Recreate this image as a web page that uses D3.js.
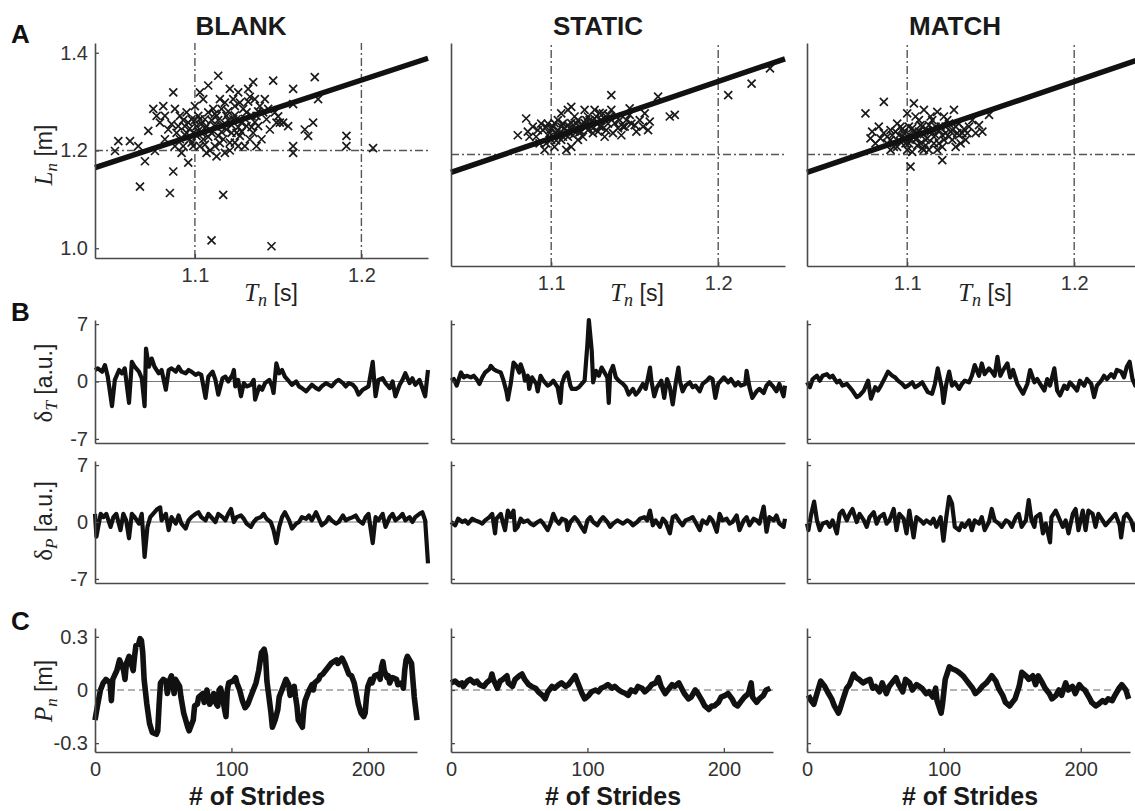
<!DOCTYPE html>
<html><head><meta charset="utf-8">
<script src="https://cdn.jsdelivr.net/npm/d3@7"></script>
<style>body{margin:0;background:#fff}svg{display:block}</style>
</head><body>
<svg id="c" width="1135" height="811"></svg>
<script>
// ---------- DATA ----------
const conditions = ["BLANK", "STATIC", "MATCH"];
const speed = 1.12;              // constant-speed line L = v * T  (m/s)
const refT = [1.1, 1.2];         // dash-dot reference lines (s)
const refL = [1.2];              // dash-dot reference line (m)
const tTicks = [1.1, 1.2];
const lTicks = [1.0, 1.2, 1.4];
const deltaTicks = [-7, 0, 7];
const pTicks = [-0.3, 0, 0.3];
const strideTicks = [0, 100, 200];

// A: stride time T_n (s) vs stride length L_n (m)
const scatterBlank = [[1.052,1.199],[1.054,1.219],[1.061,1.219],[1.066,1.209],[1.067,1.126],[1.070,1.178],[1.072,1.240],[1.075,1.285],[1.076,1.199],[1.077,1.271],[1.079,1.257],[1.081,1.291],[1.082,1.223],[1.085,1.113],[1.086,1.254],[1.087,1.319],[1.087,1.157],[1.088,1.209],[1.089,1.236],[1.091,1.271],[1.092,1.195],[1.094,1.250],[1.095,1.278],[1.096,1.175],[1.097,1.223],[1.098,1.264],[1.099,1.209],[1.100,1.291],[1.101,1.250],[1.102,1.271],[1.103,1.209],[1.104,1.236],[1.105,1.305],[1.106,1.264],[1.107,1.195],[1.108,1.333],[1.109,1.243],[1.110,1.016],[1.111,1.285],[1.112,1.209],[1.113,1.188],[1.114,1.353],[1.115,1.305],[1.116,1.250],[1.117,1.109],[1.117,1.223],[1.118,1.195],[1.119,1.271],[1.121,1.326],[1.122,1.236],[1.123,1.305],[1.124,1.216],[1.125,1.264],[1.126,1.319],[1.127,1.230],[1.129,1.285],[1.130,1.209],[1.131,1.250],[1.132,1.326],[1.133,1.223],[1.134,1.271],[1.135,1.340],[1.136,1.305],[1.137,1.209],[1.138,1.250],[1.139,1.291],[1.140,1.223],[1.142,1.305],[1.143,1.264],[1.145,1.243],[1.146,1.004],[1.147,1.343],[1.148,1.278],[1.149,1.257],[1.151,1.257],[1.153,1.257],[1.156,1.250],[1.159,1.326],[1.159,1.295],[1.159,1.209],[1.159,1.195],[1.166,1.243],[1.168,1.230],[1.171,1.257],[1.172,1.350],[1.174,1.305],[1.191,1.230],[1.191,1.209],[1.207,1.205],[1.095,1.236],[1.098,1.216],[1.101,1.230],[1.103,1.264],[1.105,1.223],[1.107,1.250],[1.108,1.278],[1.110,1.236],[1.113,1.271],[1.114,1.230],[1.116,1.285],[1.119,1.243],[1.121,1.216],[1.123,1.264],[1.125,1.236],[1.128,1.257],[1.131,1.278],[1.135,1.236],[1.137,1.271],[1.141,1.278],[1.091,1.223],[1.093,1.209],[1.096,1.257],[1.099,1.236],[1.124,1.291],[1.126,1.209],[1.112,1.250],[1.103,1.319],[1.082,1.271],[1.084,1.243],[1.097,1.245],[1.100,1.262],[1.102,1.240],[1.104,1.255],[1.106,1.245],[1.108,1.228],[1.110,1.262],[1.112,1.275],[1.114,1.262],[1.116,1.238],[1.118,1.255],[1.120,1.262],[1.122,1.252],[1.124,1.272],[1.126,1.248],[1.128,1.238],[1.130,1.265],[1.132,1.300],[1.134,1.248],[1.136,1.258],[1.138,1.280],[1.133,1.310],[1.127,1.298],[1.118,1.298],[1.106,1.212],[1.115,1.215],[1.121,1.200],[1.109,1.200],[1.093,1.262],[1.090,1.250],[1.088,1.285],[1.094,1.232],[1.120,1.280],[1.144,1.285],[1.150,1.270]];
const scatterStatic = [[1.080,1.238],[1.085,1.271],[1.086,1.245],[1.089,1.255],[1.091,1.235],[1.094,1.261],[1.096,1.209],[1.097,1.222],[1.099,1.242],[1.101,1.255],[1.102,1.215],[1.104,1.268],[1.105,1.242],[1.106,1.229],[1.108,1.252],[1.109,1.209],[1.110,1.235],[1.112,1.294],[1.113,1.248],[1.115,1.261],[1.116,1.229],[1.118,1.245],[1.120,1.288],[1.121,1.255],[1.123,1.268],[1.125,1.242],[1.127,1.275],[1.129,1.255],[1.131,1.281],[1.132,1.235],[1.134,1.261],[1.136,1.317],[1.137,1.242],[1.139,1.275],[1.142,1.238],[1.143,1.255],[1.145,1.268],[1.147,1.291],[1.148,1.261],[1.151,1.245],[1.153,1.268],[1.155,1.255],[1.158,1.248],[1.159,1.265],[1.164,1.314],[1.171,1.275],[1.174,1.278],[1.206,1.317],[1.220,1.340],[1.231,1.370],[1.095,1.248],[1.098,1.261],[1.100,1.229],[1.103,1.242],[1.107,1.261],[1.111,1.242],[1.114,1.275],[1.117,1.255],[1.119,1.235],[1.122,1.275],[1.124,1.255],[1.126,1.288],[1.128,1.245],[1.130,1.268],[1.135,1.275],[1.140,1.252],[1.106,1.281],[1.110,1.288],[1.093,1.222],[1.087,1.235],[1.136,1.288],[1.147,1.278],[1.156,1.281],[1.112,1.215],[1.100,1.250],[1.102,1.262],[1.104,1.248],[1.106,1.255],[1.108,1.240],[1.110,1.258],[1.112,1.262],[1.114,1.250],[1.116,1.268],[1.118,1.258],[1.120,1.262],[1.122,1.248],[1.124,1.265],[1.126,1.270],[1.128,1.262],[1.130,1.255],[1.132,1.270],[1.134,1.278],[1.138,1.262],[1.141,1.268],[1.144,1.255],[1.099,1.235],[1.103,1.228],[1.107,1.235],[1.111,1.252],[1.113,1.238],[1.117,1.244],[1.121,1.268],[1.125,1.252],[1.129,1.282],[1.133,1.248],[1.150,1.258],[1.097,1.254],[1.092,1.248]];
const scatterMatch = [[1.075,1.281],[1.078,1.232],[1.079,1.245],[1.083,1.255],[1.086,1.304],[1.088,1.235],[1.090,1.248],[1.092,1.215],[1.094,1.261],[1.097,1.235],[1.099,1.222],[1.100,1.281],[1.101,1.255],[1.102,1.176],[1.103,1.205],[1.104,1.301],[1.105,1.242],[1.107,1.268],[1.108,1.222],[1.110,1.288],[1.112,1.248],[1.113,1.209],[1.115,1.268],[1.116,1.235],[1.118,1.284],[1.120,1.255],[1.121,1.189],[1.122,1.229],[1.124,1.268],[1.126,1.245],[1.128,1.288],[1.129,1.215],[1.131,1.261],[1.133,1.242],[1.135,1.229],[1.137,1.255],[1.139,1.268],[1.141,1.242],[1.143,1.258],[1.145,1.245],[1.149,1.278],[1.090,1.229],[1.093,1.245],[1.096,1.255],[1.098,1.242],[1.102,1.229],[1.104,1.245],[1.106,1.232],[1.109,1.255],[1.111,1.229],[1.114,1.245],[1.117,1.255],[1.119,1.222],[1.123,1.242],[1.125,1.261],[1.127,1.229],[1.130,1.242],[1.132,1.222],[1.136,1.242],[1.094,1.215],[1.100,1.209],[1.109,1.212],[1.118,1.209],[1.081,1.222],[1.086,1.242],[1.110,1.209],[1.090,1.209],[1.095,1.238],[1.097,1.250],[1.099,1.232],[1.101,1.240],[1.103,1.252],[1.105,1.230],[1.107,1.245],[1.108,1.258],[1.110,1.240],[1.112,1.232],[1.113,1.258],[1.115,1.250],[1.117,1.238],[1.119,1.248],[1.121,1.238],[1.123,1.255],[1.125,1.235],[1.127,1.248],[1.129,1.255],[1.131,1.238],[1.134,1.250],[1.101,1.222],[1.106,1.218],[1.111,1.218],[1.116,1.222],[1.121,1.215],[1.096,1.225],[1.091,1.238],[1.088,1.222],[1.084,1.232],[1.114,1.275],[1.105,1.275],[1.122,1.275]];

// B: delta_T (a.u.) by stride  [stride, value]
const dTBlank = [[0,1.4],[2,1.6],[5,1.2],[7,2.0],[9,0.6],[12,-3.0],[14,0.2],[17,1.4],[19,1.0],[21,1.6],[24,-2.6],[26,2.4],[28,1.8],[31,1.2],[33,0.4],[35,-3.0],[36,4.0],[38,1.8],[40,2.8],[42,1.8],[45,1.0],[47,1.4],[50,-1.0],[52,1.4],[54,1.6],[57,1.2],[59,1.8],[61,1.2],[64,1.0],[66,1.4],[68,1.2],[71,0.8],[73,1.0],[75,0.8],[78,-2.0],[80,0.6],[83,1.2],[85,0.2],[87,-1.6],[90,0.4],[92,0.6],[94,0],[97,0.8],[98,1.4],[99,-0.6],[101,0.2],[103,-1.8],[105,-0.2],[107,-0.6],[110,-0.4],[112,0.2],[113,-2.2],[116,-0.6],[118,-1.0],[120,-0.2],[123,0.2],[125,-0.6],[126,-1.4],[128,2.2],[130,1.0],[132,1.4],[134,0.6],[137,0],[139,-0.4],[142,0],[144,-0.6],[146,-0.8],[149,-1.2],[151,-0.8],[153,-0.4],[156,-0.8],[158,-1.0],[160,-0.6],[163,-0.2],[165,-0.4],[167,-0.6],[170,0],[172,0.2],[175,-0.2],[177,-0.6],[179,-0.2],[182,-0.4],[184,-0.8],[186,-1.6],[189,-1.0],[191,-0.8],[193,-0.6],[196,2.4],[197,0.2],[198,-1.8],[200,0.2],[203,0.4],[205,-0.2],[208,-0.8],[210,0],[212,-1.8],[215,-0.4],[217,0.2],[219,1.0],[222,-0.2],[224,0.4],[226,-0.4],[229,0.2],[231,-0.8],[233,-1.8],[235,1.4]];
const dTStatic = [[0,0.1],[2,0.3],[4,-0.5],[7,1.1],[9,0.5],[11,0.7],[14,0.5],[16,0.7],[18,0.3],[20,-0.3],[22,0.5],[24,1.1],[27,1.5],[28,1.9],[30,1.5],[32,1.3],[35,1.1],[37,0.1],[39,-1.2],[40,-2.2],[42,-0.3],[44,2.3],[46,1.9],[48,1.1],[49,2.1],[51,1.1],[52,0.1],[54,0.7],[55,-0.9],[57,0.5],[60,-0.3],[61,-1.2],[63,0.7],[65,0.1],[68,-0.5],[70,-0.3],[72,0.1],[75,-0.7],[77,-2.6],[78,-0.3],[80,0.7],[82,1.1],[84,-0.5],[85,-0.9],[88,-0.9],[90,-0.7],[92,-0.3],[94,0.1],[96,4.6],[97,7.5],[99,3.8],[100,-0.1],[102,1.3],[104,0.7],[106,1.7],[108,1.1],[110,0.5],[111,-2.6],[112,1.1],[114,1.9],[116,0.5],[118,0.1],[121,-0.3],[123,-0.7],[125,-1.6],[128,-0.9],[130,-1.6],[132,-1.2],[135,-0.3],[137,-0.9],[140,1.7],[141,0.1],[143,-1.8],[145,-0.7],[148,0.1],[150,-2.0],[152,0.3],[154,-0.7],[156,-2.8],[158,-0.3],[160,1.7],[161,0.1],[163,-1.2],[165,-0.5],[168,-0.1],[170,-0.7],[172,-0.5],[175,-1.2],[177,-0.3],[180,0.1],[182,0.5],[184,0.3],[186,-2.0],[188,-0.3],[190,0.1],[192,0.5],[195,-0.1],[197,0.3],[200,-0.5],[202,-0.1],[204,-0.5],[207,-0.3],[208,1.3],[210,-0.7],[212,-2.0],[215,-1.2],[217,-0.9],[220,-1.4],[222,-0.5],[224,-0.1],[227,-0.7],[229,-1.2],[231,-0.3],[234,-1.8],[235,-0.5]];
const dTMatch = [[0,-0.1],[2,-0.7],[4,0.3],[7,0.7],[9,0.1],[11,0.7],[14,0.9],[16,0.5],[18,0.7],[21,-0.1],[23,0.1],[25,-0.5],[28,-0.3],[30,-0.7],[32,-1.1],[35,-1.9],[37,-1.7],[40,-1.1],[42,-0.3],[43,0.1],[45,-2.1],[48,-0.7],[50,-1.1],[52,-0.5],[55,0.5],[57,1.2],[60,0.7],[62,0.5],[64,0.1],[67,-0.3],[69,-0.7],[71,-0.5],[74,-0.1],[76,-0.7],[78,-0.5],[81,-0.1],[83,-0.7],[85,-1.3],[88,-1.5],[90,-0.3],[92,1.6],[95,-0.9],[96,-2.6],[98,-0.3],[100,1.2],[102,-0.5],[104,-0.1],[107,-0.9],[109,-0.3],[111,0.1],[114,-0.1],[116,0.7],[118,2.0],[121,0.7],[123,2.2],[125,0.9],[128,1.6],[130,1.2],[132,0.7],[134,3.0],[136,0.7],[138,1.4],[141,2.2],[143,0.5],[145,1.4],[148,-0.3],[150,-0.9],[152,-1.5],[155,-0.3],[157,1.4],[160,-0.1],[162,0.3],[164,-0.3],[167,-1.1],[169,0.3],[171,-0.5],[174,1.6],[176,-1.1],[178,-1.7],[181,-0.5],[183,-0.9],[185,-0.1],[188,-0.7],[190,-1.1],[192,0.1],[195,-0.5],[197,0.3],[200,-0.3],[202,-1.9],[204,-0.5],[207,0.1],[209,0.7],[211,0.3],[214,0.9],[216,0.5],[218,1.4],[221,1.2],[223,0.5],[225,1.8],[227,2.4],[229,0.3],[231,-0.5],[233,0.2],[235,-0.3]];

// B: delta_P (a.u.) by stride
const dPBlank = [[0,1.0],[1,-1.8],[4,1.0],[6,0.6],[8,1.0],[11,-0.6],[13,0.6],[15,1.0],[18,-1.0],[20,1.0],[22,0.2],[24,-2.0],[26,1.0],[28,0.6],[31,-0.2],[33,1.0],[35,-4.3],[37,-0.6],[39,0.6],[41,1.0],[44,1.6],[46,1.8],[47,0.2],[50,1.0],[52,-1.0],[54,0.6],[57,-0.2],[59,0.8],[61,-0.2],[64,-0.8],[66,0.2],[68,0.6],[71,1.0],[73,1.2],[75,0.6],[78,0.2],[80,1.0],[83,0.4],[85,0],[87,1.0],[90,0.6],[92,0.2],[94,1.0],[96,1.6],[98,0],[100,0.6],[103,0.8],[105,0.4],[107,-0.2],[110,-0.6],[112,0],[114,0.4],[117,0.6],[119,1.0],[121,0.4],[124,0],[126,-1.0],[128,-2.6],[130,-0.6],[132,0.6],[134,1.2],[137,0.2],[139,-0.8],[142,-0.2],[144,0],[146,0.6],[149,0.4],[151,0.8],[153,0.2],[156,1.2],[158,0.4],[160,-0.4],[163,0],[165,0.6],[167,0.2],[170,-0.2],[172,0],[175,0.8],[177,0.2],[179,0.4],[182,0.6],[184,0.8],[186,0.2],[189,-0.2],[191,0.6],[193,1.0],[196,-2.6],[198,0.6],[200,0.2],[203,1.0],[205,-0.6],[208,0.6],[210,1.0],[212,0.2],[215,0.6],[217,1.0],[219,0.2],[222,0.6],[224,0],[226,0.6],[229,1.0],[231,1.2],[233,0.2],[235,-5.1]];
const dPStatic = [[0,0],[3,-0.4],[5,0.4],[8,0],[10,0.2],[12,-0.2],[15,0.4],[17,0.2],[20,0],[22,-0.2],[24,0.2],[27,0.6],[29,1.0],[31,-1.4],[32,0.4],[35,1.0],[37,-0.4],[38,-1.0],[40,1.4],[42,0.6],[44,1.4],[45,-1.0],[47,-0.6],[49,0.4],[51,0],[54,0.2],[56,-0.2],[58,-0.4],[61,0],[63,0.2],[65,-0.2],[68,-1.0],[70,-0.2],[72,1.0],[74,0.2],[76,-0.2],[78,0.4],[81,0.2],[82,-1.0],[84,0],[87,0.6],[89,0.2],[91,-0.4],[94,-1.2],[96,0.2],[98,0.6],[100,0],[103,-0.4],[105,0.2],[107,0.6],[110,0],[112,-0.6],[114,-0.2],[117,0.2],[119,0],[121,-0.2],[124,0.2],[126,0],[128,-0.4],[131,0],[133,0.4],[136,0.6],[138,0.2],[140,1.4],[142,-0.4],[144,0.2],[147,-0.6],[149,0.4],[151,0],[154,-1.4],[156,0.6],[158,0.8],[161,0],[163,-0.4],[165,0.2],[168,0.4],[170,0.6],[172,0],[175,-1.0],[177,0.2],[180,-0.2],[182,0.6],[184,0.2],[187,-1.2],[189,1.0],[191,0.2],[194,0.4],[196,-0.2],[198,0],[201,0.8],[203,-1.0],[206,0.2],[208,0.6],[210,-0.4],[213,0.4],[215,0.2],[217,-0.2],[220,1.9],[222,-1.2],[224,0.6],[227,0.2],[229,0.8],[231,-0.2],[234,-0.6],[235,0.4]];
const dPMatch = [[0,-0.2],[1,-1.0],[3,1.0],[5,2.5],[7,0.2],[9,-1.0],[11,-0.2],[14,0],[16,-0.6],[18,0.2],[21,-1.4],[23,1.0],[25,1.4],[28,0.2],[30,1.0],[32,1.6],[35,0],[37,1.0],[40,0.2],[42,-0.6],[44,0.6],[47,1.2],[49,-0.2],[51,0.6],[54,1.0],[56,-0.2],[58,0.2],[61,1.6],[63,-1.0],[65,1.0],[68,0.4],[70,-1.4],[72,1.4],[75,-1.9],[77,0.6],[80,0.2],[82,-0.2],[84,0.2],[87,-0.2],[89,0.4],[91,-0.6],[94,0.6],[96,-2.3],[98,0.6],[100,3.1],[102,2.3],[104,-0.6],[107,-1.0],[109,-0.2],[111,-0.6],[114,0.2],[116,-1.0],[118,0.2],[121,-0.2],[123,0.6],[125,-1.0],[128,0],[130,1.6],[132,0.2],[135,-0.2],[137,-0.6],[140,0.2],[142,0],[144,-0.6],[147,0.6],[149,1.0],[151,-0.6],[154,0.2],[156,2.7],[158,0.2],[160,-0.6],[161,0.6],[164,1.0],[166,-1.4],[168,-0.2],[171,-2.5],[172,0.6],[175,1.4],[177,0.6],[180,-0.6],[182,0.2],[184,-1.4],[187,1.0],[189,1.6],[191,-1.0],[194,1.4],[196,-1.0],[198,1.4],[201,1.0],[203,-0.6],[205,1.0],[208,0.2],[210,-0.4],[213,0.2],[215,0.6],[217,1.0],[220,-0.4],[221,-1.9],[223,0.6],[225,1.0],[228,0.2],[230,-1.0],[233,0.4],[235,-0.2]];

// C: position P_n (m) by stride
const pBlank = [[0,-0.17],[2,-0.08],[4,0],[6,0.04],[8,0.06],[11,0.04],[12,-0.06],[13,0.06],[16,0.11],[18,0.17],[21,0.11],[22,0.06],[23,0.15],[25,0.19],[28,0.11],[29,0.19],[30,0.25],[32,0.26],[33,0.29],[34,0.28],[35,0.21],[36,0.06],[38,-0.08],[40,-0.19],[42,-0.24],[45,-0.25],[46,-0.23],[47,-0.08],[48,0.04],[50,0.06],[52,0.05],[53,-0.02],[55,0.06],[56,0.08],[57,0.04],[58,-0.02],[59,0.06],[62,0.02],[63,-0.04],[65,-0.13],[68,-0.21],[69,-0.23],[72,-0.17],[73,-0.09],[75,-0.08],[76,-0.04],[79,-0.02],[80,-0.07],[81,-0.04],[82,0],[84,-0.08],[86,-0.06],[87,-0.02],[89,-0.08],[90,-0.09],[91,0],[92,0.01],[93,-0.02],[95,-0.11],[96,-0.15],[97,0],[98,0.04],[101,0.05],[103,0.07],[104,0.04],[106,0],[108,-0.06],[110,-0.1],[112,-0.08],[114,-0.04],[115,-0.02],[118,0.04],[120,0.11],[122,0.21],[124,0.23],[125,0.19],[126,0.05],[129,-0.13],[130,-0.21],[132,-0.17],[134,-0.11],[135,-0.04],[137,0],[140,0.06],[142,0.03],[143,-0.03],[144,-0.02],[146,0.02],[147,-0.04],[148,-0.09],[149,-0.17],[152,-0.21],[153,-0.11],[154,-0.06],[157,0],[159,0.03],[160,0],[161,0.04],[164,0.06],[165,0.08],[167,0.09],[169,0.11],[171,0.13],[173,0.15],[175,0.16],[177,0.17],[178,0.15],[180,0.17],[181,0.18],[183,0.15],[186,0.09],[188,0.08],[190,0.04],[193,-0.08],[195,-0.13],[197,-0.15],[198,-0.13],[199,-0.04],[200,0.02],[202,0.06],[203,0.04],[205,0.08],[208,0.09],[209,0.06],[210,0.13],[211,0.16],[212,0.11],[214,0.07],[215,0.08],[216,0.04],[217,0.06],[218,0.07],[221,0.06],[222,0.03],[225,0.04],[226,0.01],[227,0.11],[228,0.17],[229,0.19],[232,0.15],[234,-0.04],[236,-0.17]];
const pStatic = [[0,0.04],[3,0.05],[6,0.03],[8,0.04],[9,0.02],[12,0.05],[14,0.06],[17,0.04],[19,0.05],[21,0.03],[24,0.02],[26,0.04],[29,0.06],[30,0.09],[31,0.06],[34,0.01],[36,0.05],[38,0.06],[41,0.08],[42,0.04],[45,0.02],[47,0.06],[50,0.08],[52,0.09],[54,0.06],[57,0.03],[59,0.02],[62,0.01],[64,-0.01],[67,-0.03],[69,-0.05],[71,-0.01],[74,0.02],[76,0.01],[79,0.03],[81,0.04],[84,0.02],[86,0.03],[89,0.06],[91,0.08],[93,0.04],[96,-0.02],[98,-0.05],[101,-0.03],[103,-0.01],[106,0],[108,-0.01],[110,0.01],[113,0.02],[115,0.03],[118,0.01],[120,0.02],[123,0],[125,-0.01],[128,-0.02],[130,-0.03],[132,0],[135,-0.01],[137,0.02],[140,0.01],[142,-0.01],[145,0.01],[147,0.03],[150,0.04],[152,0.07],[154,0.02],[157,-0.02],[159,0],[162,0.03],[164,0.02],[167,0.04],[169,0.01],[171,-0.02],[174,-0.05],[176,-0.04],[179,0],[181,-0.02],[184,-0.06],[186,-0.09],[189,-0.11],[191,-0.09],[193,-0.09],[196,-0.07],[198,-0.04],[201,-0.03],[203,-0.02],[206,-0.05],[208,-0.08],[210,-0.09],[213,-0.06],[215,-0.04],[218,-0.02],[220,0.04],[221,-0.04],[224,-0.07],[226,-0.05],[229,-0.03],[231,0],[234,0.01]];
const pMatch = [[1,-0.03],[3,-0.06],[5,-0.08],[8,0],[10,0.05],[13,0.02],[15,-0.01],[18,-0.05],[20,-0.09],[23,-0.13],[24,-0.11],[26,-0.06],[29,0.01],[31,0.03],[34,0.09],[36,0.07],[38,0.06],[41,0.04],[43,0.05],[46,0.06],[48,0.01],[50,0.02],[53,-0.01],[55,0.04],[58,-0.02],[60,0.02],[63,0.05],[65,0.07],[67,0.03],[70,-0.01],[72,0.06],[75,0.04],[77,0],[80,0.03],[82,0.02],[84,0.01],[87,-0.02],[89,-0.01],[92,-0.04],[94,0.01],[95,-0.06],[98,-0.13],[99,-0.08],[101,0.06],[104,0.13],[106,0.12],[109,0.11],[111,0.1],[114,0.08],[116,0.06],[118,0.04],[121,0.01],[123,-0.02],[126,0],[128,0.02],[131,0.04],[133,0.06],[135,0.08],[138,0.05],[140,0.01],[143,-0.03],[145,-0.07],[148,-0.09],[150,-0.07],[152,-0.05],[155,0.02],[157,0.1],[160,0.08],[162,0.06],[165,0.08],[167,0.03],[169,0.08],[172,0.04],[174,0.01],[177,-0.02],[179,-0.05],[182,-0.03],[184,0],[186,-0.03],[189,0.04],[191,0],[194,0.02],[196,-0.02],[199,0.03],[201,0.01],[203,0],[206,-0.04],[208,-0.07],[211,-0.09],[213,-0.08],[216,-0.06],[218,-0.07],[220,-0.05],[223,-0.06],[225,-0.03],[228,0.01],[230,0.03],[233,0],[235,-0.05]];

const scatterSets = [scatterBlank, scatterStatic, scatterMatch];
const dTSets = [dTBlank, dTStatic, dTMatch];
const dPSets = [dPBlank, dPStatic, dPMatch];
const pSets = [pBlank, pStatic, pMatch];

// ---------- LAYOUT ----------
const cols = [
  {ax:[95,428],  ay:[258,43], bx:[95,428],  cx:[95,417],  title:241, tn:271, st:257},
  {ax:[451,785], ay:[266,43], bx:[451,785], cx:[451,773], title:598, tn:637, st:613},
  {ax:[807,1141],ay:[266,43], bx:[807,1141],cx:[807,1130],title:955, tn:985, st:970}
];
const rowB1 = [443, 320], rowB2 = [583, 461], rowC = [752, 628];

const SANS = "'Liberation Sans', Arial, sans-serif";
const SERIF = "'Liberation Serif', 'Times New Roman', serif";
const AXC = "#4a4a4a", TXT = "#333", INK = "#111";

const svg = d3.select("#c");
const dashdot = "8,3,2,3";

function styleAxis(g, showLabels) {
  g.select(".domain").attr("stroke", AXC).attr("stroke-width", 1.6);
  g.selectAll(".tick line").attr("stroke", AXC).attr("stroke-width", 1.3);
  g.selectAll(".tick text").attr("fill", TXT).attr("font-family", SANS).attr("font-size", 20);
  if (!showLabels) g.selectAll(".tick text").remove();
}

function leftAxis(x0, y, ticks, labels, fmt) {
  const g = svg.append("g").attr("transform", `translate(${x0},0)`)
    .call(d3.axisLeft(y).tickValues(ticks).tickSizeInner(-4).tickSizeOuter(0).tickPadding(7).tickFormat(fmt));
  styleAxis(g, labels);
}
function bottomAxis(y0, x, ticks, labels, fmt) {
  const g = svg.append("g").attr("transform", `translate(0,${y0})`)
    .call(d3.axisBottom(x).tickValues(ticks).tickSizeInner(-4).tickSizeOuter(0).tickPadding(10).tickFormat(fmt));
  styleAxis(g, labels);
}

const fmtPlain = d => (d < 0 ? "-" : "") + Math.abs(d);

conditions.forEach((name, i) => {
  const c = cols[i];
  // ---- title
  svg.append("text").attr("x", c.title).attr("y", 35).attr("text-anchor", "middle")
    .attr("font-family", SANS).attr("font-weight", "bold").attr("font-size", 26).attr("fill", "#1a1a1a").text(name);

  // ---- A: scatter
  const x = d3.scaleLinear().domain([1.04, 1.24]).range(c.ax);
  const y = d3.scaleLinear().domain([0.98, 1.42]).range(c.ay);
  const gA = svg.append("g");
  refT.forEach(t => gA.append("line").attr("x1", x(t)).attr("x2", x(t)).attr("y1", c.ay[0]).attr("y2", c.ay[1])
    .attr("stroke", "#555").attr("stroke-width", 1.4).attr("stroke-dasharray", dashdot));
  refL.forEach(l => gA.append("line").attr("x1", c.ax[0]).attr("x2", c.ax[1]).attr("y1", y(l)).attr("y2", y(l))
    .attr("stroke", "#555").attr("stroke-width", 1.4).attr("stroke-dasharray", dashdot));
  gA.selectAll("path.x").data(scatterSets[i]).join("path")
    .attr("transform", d => `translate(${x(d[0])},${y(d[1])})`)
    .attr("d", "M-4,-4L4,4M-4,4L4,-4")
    .attr("stroke", "#1a1a1a").attr("stroke-width", 1.7).attr("fill", "none");
  const tl = d3.line().x(d => x(d)).y(d => y(speed * d));
  gA.append("path").attr("d", tl([1.04, 1.24])).attr("stroke", INK).attr("stroke-width", 5.5).attr("fill", "none");
  leftAxis(c.ax[0], y, i === 0 ? lTicks : [], i === 0, d3.format(".1f"));
  bottomAxis(c.ay[0], x, tTicks, true, d3.format(".1f"));

  // T_n label
  const tn = svg.append("text").attr("x", c.tn).attr("y", 301).attr("text-anchor", "middle").attr("fill", "#222");
  tn.append("tspan").attr("font-family", SERIF).attr("font-style", "italic").attr("font-size", 25).text("T");
  tn.append("tspan").attr("font-family", SERIF).attr("font-style", "italic").attr("font-size", 18).attr("dy", 5).text("n");
  tn.append("tspan").attr("font-family", SANS).attr("font-size", 23).attr("dy", -5).text(" [s]");

  // ---- B rows
  const xb = d3.scaleLinear().domain([0, 235]).range(c.bx);
  [[rowB1, dTSets[i]], [rowB2, dPSets[i]]].forEach(([r, data]) => {
    const yb = d3.scaleLinear().domain([-7.5, 7.5]).range(r);
    svg.append("line").attr("x1", c.bx[0]).attr("x2", c.bx[1]).attr("y1", yb(0)).attr("y2", yb(0))
      .attr("stroke", "#777").attr("stroke-width", 1.2);
    svg.append("path").datum(data).attr("d", d3.line().x(d => xb(d[0])).y(d => yb(d[1])))
      .attr("fill", "none").attr("stroke", INK).attr("stroke-width", 4.2).attr("stroke-linejoin", "round");
    leftAxis(c.bx[0], yb, deltaTicks, i === 0, fmtPlain);
    bottomAxis(r[0], xb, [], false, null);
  });

  // ---- C row
  const xc = d3.scaleLinear().domain([0, 236]).range(c.cx);
  const yc = d3.scaleLinear().domain([-0.35, 0.35]).range(rowC);
  svg.append("line").attr("x1", c.cx[0]).attr("x2", c.cx[1]).attr("y1", yc(0)).attr("y2", yc(0))
    .attr("stroke", "#666").attr("stroke-width", 1.2).attr("stroke-dasharray", "7,4");
  svg.append("path").datum(pSets[i]).attr("d", d3.line().x(d => xc(d[0])).y(d => yc(d[1])))
    .attr("fill", "none").attr("stroke", INK).attr("stroke-width", 5.6).attr("stroke-linejoin", "round");
  leftAxis(c.cx[0], yc, pTicks, i === 0, d => d === 0 ? "0" : fmtPlain(d));
  bottomAxis(rowC[0], xc, strideTicks, true, d3.format("d"));

  svg.append("text").attr("x", c.st).attr("y", 805).attr("text-anchor", "middle")
    .attr("font-family", SANS).attr("font-weight", "bold").attr("font-size", 25).attr("fill", "#1a1a1a").text("# of Strides");
});

// ---- panel letters
[["A", 43], ["B", 321], ["C", 630]].forEach(([t, yy]) =>
  svg.append("text").attr("x", 11).attr("y", yy).attr("font-family", SANS).attr("font-weight", "bold")
    .attr("font-size", 26).attr("fill", "#111").text(t));

// ---- rotated y labels
function yLabel(cy, sym, symFont, symStyle, sub, subStyle, unit) {
  const t = svg.append("text").attr("transform", `translate(52,${cy}) rotate(-90)`).attr("text-anchor", "middle").attr("fill", "#222");
  t.append("tspan").attr("font-family", symFont).attr("font-style", symStyle).attr("font-size", 25).text(sym);
  t.append("tspan").attr("font-family", SERIF).attr("font-style", subStyle).attr("font-size", 17).attr("dy", 5).text(sub);
  t.append("tspan").attr("font-family", SANS).attr("font-size", 23).attr("dy", -5).text(unit);
}
yLabel(155, "L", SERIF, "italic", "n", "italic", " [m]");
yLabel(383, "δ", SERIF, "normal", "T", "italic", " [a.u.]");
yLabel(521, "δ", SERIF, "normal", "P", "italic", " [a.u.]");
yLabel(691, "P", SERIF, "italic", "n", "italic", " [m]");
</script>
</body></html>
